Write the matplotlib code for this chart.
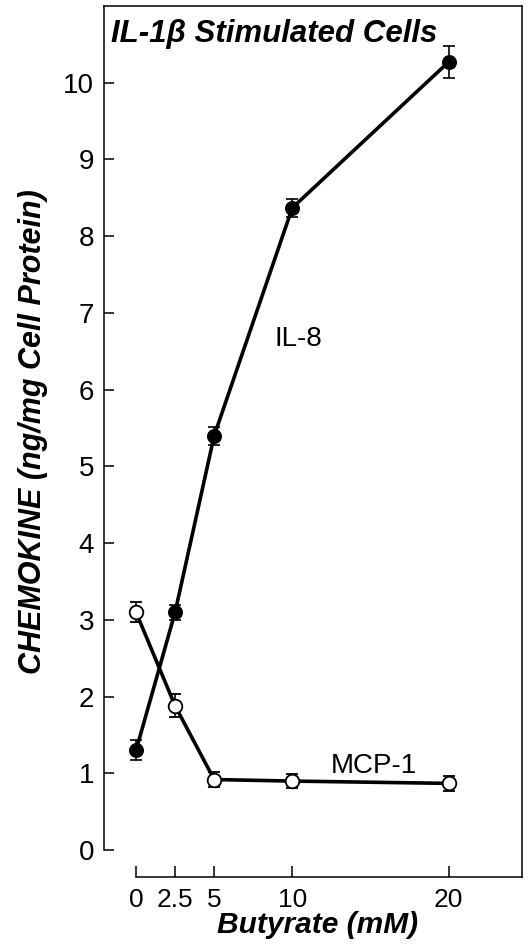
import matplotlib
matplotlib.use("Agg")
import matplotlib.pyplot as plt

butyrate = [0, 2.5, 5, 10, 20]
il8 = [1.3, 3.1, 5.4, 8.37, 10.27]
il8_err = [0.13, 0.1, 0.12, 0.12, 0.21]
mcp1 = [3.1, 1.88, 0.92, 0.9, 0.87]
mcp1_err = [0.13, 0.15, 0.1, 0.09, 0.1]
xticks = [0, 2.5, 5, 10, 20]
xticklabels = ["0", "2.5", "5", "10", "20"]
yticks = list(range(0, 11))

plt.rcParams['font.family'] = ['Liberation Sans', 'DejaVu Sans']

fig = plt.figure(figsize=(5.3, 9.44), dpi=100)
ax = fig.add_axes([104/530, 1-877/944, (522-104)/530, (877-6)/944])

common = dict(color='black', lw=2.6, marker='o', ms=9.8, mec='black', ecolor='black',
              elinewidth=1.2, capsize=4.5, capthick=1.2, zorder=3)
ax.errorbar(butyrate, il8, yerr=il8_err, mfc='black', **common)
ax.errorbar(butyrate, mcp1, yerr=mcp1_err, mfc='white', mew=1.3, **common)

ax.set_xlim(-2.05, 24.7)
ax.set_ylim(-0.35, 11.0)
ax.set_xticks(xticks)
ax.set_xticklabels(xticklabels)
ax.set_yticks(yticks)

ax.spines['left'].set_bounds(0, 11.0)
ax.spines['bottom'].set_bounds(0, 24.7)
for s in ax.spines.values():
    s.set_linewidth(1.1)

ax.tick_params(axis='y', direction='in', length=7, width=1.1, labelsize=20, pad=7)
ax.tick_params(axis='x', direction='in', length=8, width=1.1, labelsize=19, pad=8)

ax.set_xlabel('Butyrate (mM)', fontsize=21.5, fontweight='bold', fontstyle='italic', va='baseline')
ax.set_ylabel('CHEMOKINE (ng/mg Cell Protein)', fontsize=22, fontweight='bold', fontstyle='italic', va='center')
ax.yaxis.set_label_coords(-0.17, 0.511)
ax.xaxis.set_label_coords(0.511, -0.0643)

ax.text(0.017, 0.9587, 'IL-1β Stimulated Cells', transform=ax.transAxes, ha='left', va='baseline',
        fontsize=22.5, fontweight='bold', fontstyle='italic')
ax.text(10.4, 6.57, 'IL-8', fontsize=20, ha='center', va='baseline')
ax.text(15.2, 1.005, 'MCP-1', fontsize=20, ha='center', va='baseline')

fig.savefig('out.png', dpi=100)
